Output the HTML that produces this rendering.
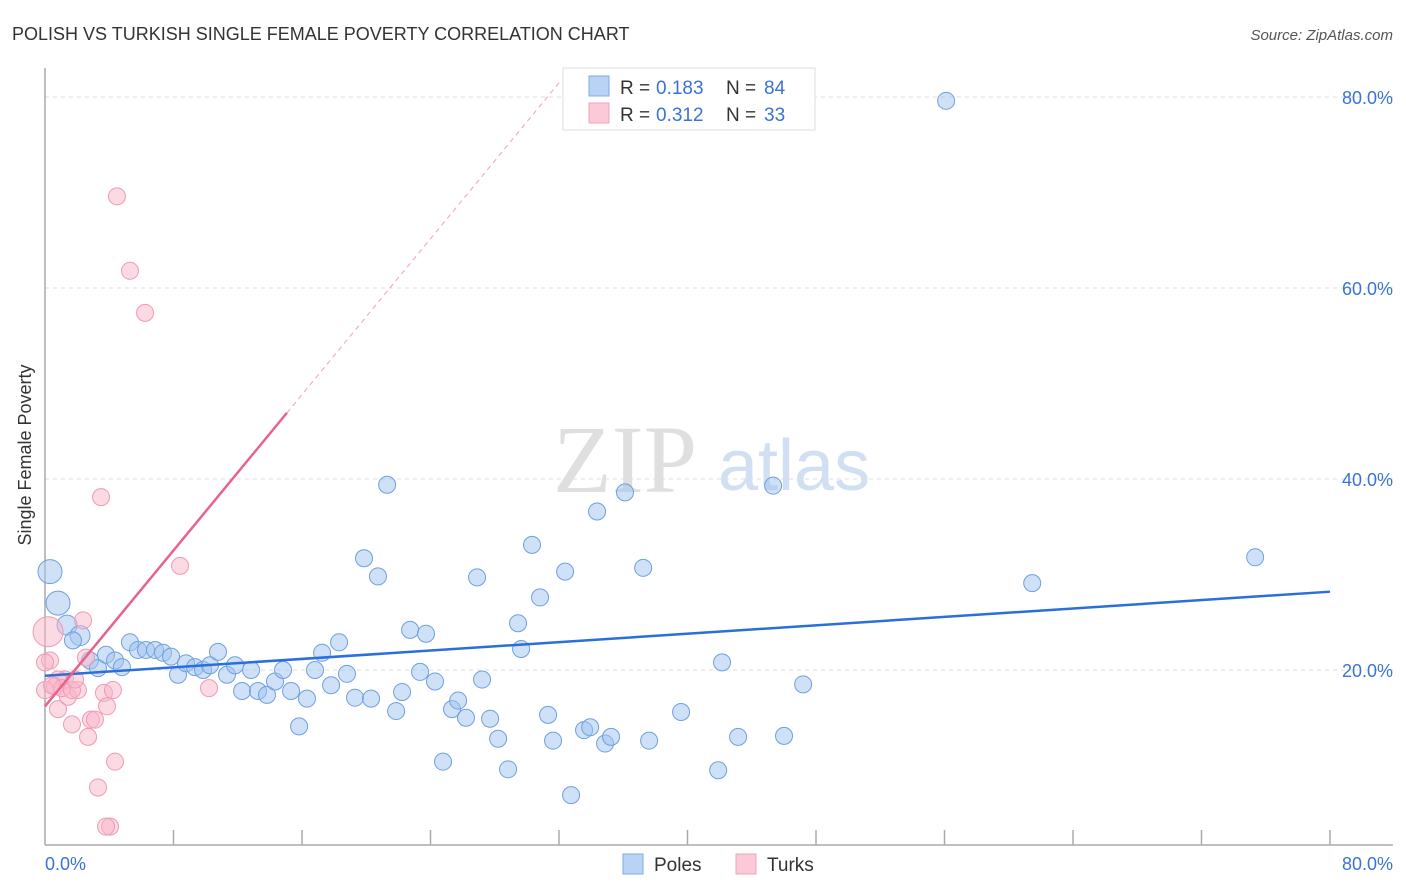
<!DOCTYPE html>
<html><head><meta charset="utf-8">
<style>
body{margin:0;background:#fff;font-family:"Liberation Sans",sans-serif;}
svg{display:block}
</style></head>
<body>
<svg id="chart" width="1406" height="892" viewBox="0 0 1406 892">
<text x="12" y="40" font-size="18" fill="#333">POLISH VS TURKISH SINGLE FEMALE POVERTY CORRELATION CHART</text>
<text x="1393" y="40" font-size="15" fill="#555" font-style="italic" text-anchor="end">Source: ZipAtlas.com</text>
<g>
<text x="553" y="492" font-size="96" font-family="Liberation Serif,serif" fill="#d8d8d8" opacity="0.8">ZIP</text>
<text x="718" y="490" font-size="72" fill="#c6d8f0" opacity="0.8">atlas</text>
</g>
<g id="grid"></g>
<line x1="45" y1="68" x2="45" y2="845" stroke="#aaa" stroke-width="1.5"/>
<line x1="45" y1="845" x2="1393" y2="845" stroke="#aaa" stroke-width="1.5"/>
<g id="xticks"></g>
<text x="31" y="455" font-size="18" fill="#333" text-anchor="middle" transform="rotate(-90 31 455)">Single Female Poverty</text>
<text x="45" y="870" font-size="18" fill="#3a73d4">0.0%</text>
<text x="1393" y="870" font-size="18" fill="#3a73d4" text-anchor="end">80.0%</text>
<g id="pts"></g>
<g id="lines"></g>
<g>
<rect x="563" y="68" width="252" height="62" fill="#fff" stroke="#ddd"/>
<rect x="589" y="76" width="20" height="20" fill="#b9d3f5" stroke="#7fa9e6"/>
<rect x="589" y="103" width="20" height="20" fill="#fbc9d7" stroke="#f0a3ba"/>
<g font-size="19" fill="#333">
<text x="620" y="94">R =</text><text x="656" y="94" fill="#3a73d4">0.183</text>
<text x="726" y="94">N =</text><text x="764" y="94" fill="#3a73d4">84</text></g>
<g font-size="19" fill="#333">
<text x="620" y="121">R =</text><text x="656" y="121" fill="#3a73d4">0.312</text>
<text x="726" y="121">N =</text><text x="764" y="121" fill="#3a73d4">33</text></g>
</g>
<g>
<rect x="623" y="854" width="20" height="20" fill="#b9d3f5" stroke="#7fa9e6"/>
<text x="654" y="871" font-size="19" fill="#333">Poles</text>
<rect x="736" y="854" width="20" height="20" fill="#fbc9d7" stroke="#f0a3ba"/>
<text x="767" y="871" font-size="19" fill="#333">Turks</text>
</g>
</svg>
<script>
const yTicks=[20,40,60,80];
const yTickLabels=["20.0%","40.0%","60.0%","80.0%"];
const polesX=[0.31,0.81,1.37,2.18,1.74,2.80,3.30,3.80,4.36,4.79,5.29,5.79,6.29,6.85,7.35,7.85,8.28,8.78,9.34,9.84,10.27,10.77,11.33,11.83,12.27,12.83,13.26,13.82,14.32,14.82,15.32,15.82,16.31,16.81,17.25,17.81,18.31,18.80,19.30,19.86,20.30,20.73,21.30,21.86,22.23,22.73,23.35,23.72,24.28,24.78,25.34,25.72,26.21,26.90,27.21,27.71,28.21,28.83,29.45,29.64,30.32,30.82,31.32,31.63,32.38,32.75,33.56,33.94,34.37,34.87,35.24,36.11,37.24,37.61,39.60,41.91,42.15,43.15,45.33,46.01,47.20,56.10,61.46,75.34];
const polesY=[30.3,27.0,24.7,23.6,23.1,21.0,20.2,21.6,21.0,20.3,22.9,22.1,22.1,22.1,21.8,21.4,19.5,20.7,20.3,20.0,20.5,21.9,19.5,20.5,17.8,20.0,17.8,17.4,18.8,20.0,17.8,14.1,17.0,20.0,21.8,18.4,22.9,19.6,17.1,31.7,17.0,29.8,39.4,15.7,17.7,24.2,19.8,23.8,18.8,10.4,15.9,16.8,15.0,29.7,19.0,14.9,12.8,9.6,24.9,22.2,33.1,27.6,15.3,12.6,30.3,6.9,13.7,14.0,36.6,12.3,13.0,38.6,30.7,12.6,15.6,9.5,20.8,13.0,39.3,13.1,18.5,79.6,29.1,31.8];
const turksX=[0.19,0.31,0.62,0.81,1.25,1.43,1.68,2.05,2.37,2.55,2.68,2.86,3.11,3.30,3.49,3.67,3.86,4.23,4.36,4.48,4.05,3.80,5.29,6.23,8.41,10.21,0.81,1.06,1.68,1.87,0,0,0.44];
const turksY=[24.0,21.0,18.3,15.9,19.0,17.2,14.3,17.9,25.2,21.3,13.0,14.8,14.8,7.7,38.1,17.6,16.2,17.9,10.4,69.6,3.6,3.6,61.8,57.4,30.9,18.1,19.0,18.1,17.9,19.0,17.9,20.8,18.4];
const polesTrend=[19.4,0.11];
const turksTrend=[16.2,2.04];
const NS="http://www.w3.org/2000/svg";
const xs=v=>45+v*(1330-45)/80;
const ys=v=>861-v*9.55;
function mk(tag,attrs,parent){const e=document.createElementNS(NS,tag);for(const k in attrs)e.setAttribute(k,attrs[k]);parent.appendChild(e);return e;}
const grid=document.getElementById('grid');
yTicks.forEach((t,i)=>{
 const l=mk('line',{x1:45,x2:1393,y1:ys(t),y2:ys(t),stroke:'#ddd','stroke-dasharray':'4,4'},grid);
 
 
 const tx=mk('text',{x:1393,y:ys(t)+7,'font-size':18,fill:'#3a73d4','text-anchor':'end'},grid);
 tx.textContent=yTickLabels[i];
 
 
});
const xt=document.getElementById('xticks');
for(let i=1;i<=10;i++){
 const l=mk('line',{x1:xs(i*8),x2:xs(i*8),y1:830,y2:845,stroke:'#aaa','stroke-width':1.5},xt);
 
 
}
const pts=document.getElementById('pts');
polesX.forEach((x,i)=>{
 const r=(i<2)?12:(i<4?10:8.5);
 const c=mk('circle',{cx:xs(x),cy:ys(polesY[i]),r:r,fill:'rgba(160,196,240,0.5)',stroke:'#6f9fe0','stroke-width':1},pts);
 
 
});
turksX.forEach((x,i)=>{
 const r=(i==0)?15:8.5;
 const c=mk('circle',{cx:xs(x),cy:ys(turksY[i]),r:r,fill:'rgba(248,182,202,0.5)',stroke:'#ee9ab3','stroke-width':1},pts);
 
 
});
const ln=document.getElementById('lines');
let l1=mk('line',{x1:xs(0),y1:ys(polesTrend[0]),x2:xs(80),y2:ys(polesTrend[0]+polesTrend[1]*80),stroke:'#2a6fdb','stroke-width':2.5},ln);


let l2=mk('line',{x1:xs(0),y1:ys(turksTrend[0]),x2:xs(15.06),y2:ys(turksTrend[0]+turksTrend[1]*15.06),stroke:'#e8628c','stroke-width':2.5},ln);


let l3=mk('line',{x1:xs(15.06),y1:ys(turksTrend[0]+turksTrend[1]*15.06),x2:xs(32.1),y2:ys(turksTrend[0]+turksTrend[1]*32.1),stroke:'#f0a0b8','stroke-width':1,'stroke-dasharray':'5,4'},ln);


</script>
</body></html>
